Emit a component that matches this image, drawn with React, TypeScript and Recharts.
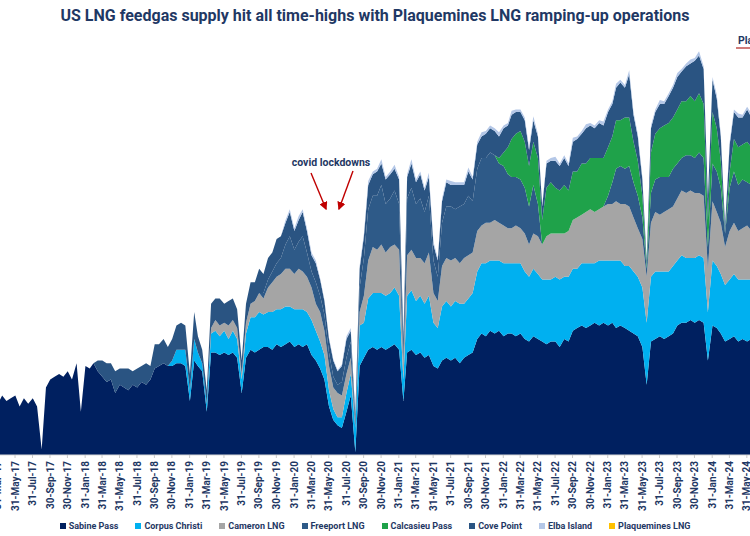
import React from "react";
import { AreaChart, Area, XAxis, YAxis } from "recharts";

// Semi-monthly observation dates (1st and 16th of each month), Mar-2017 .. Jul-2024
const FIRST_YEAR = 2017;
const FIRST_MONTH = 2; // March (0-based)
const LAST_YEAR = 2024;
const LAST_MONTH = 6; // July (0-based)
const HALF_MONTH_DAYS = [1, 16];

// bcf/d, two values per month
const sabine = [
  // 2017 Mar..Dec
  2.1, 2.2, 1.9, 2.2, 2.0, 2.1, 2.2, 1.8, 2.1, 1.9, 2.1, 1.8, 0.2, 2.5, 2.8, 2.9, 3.0, 2.9, 3.1, 2.8,
  // 2018
  3.4, 1.6, 3.3, 3.2, 3.4, 3.1, 2.9, 2.7, 2.8, 2.3, 2.6, 2.5, 2.4, 2.6, 2.5, 2.7, 2.6, 2.8, 3.2, 3.3, 3.4, 3.3, 3.3, 3.4,
  // 2019
  3.4, 3.3, 2.0, 3.5, 3.3, 3.1, 1.6, 3.8, 3.8, 3.7, 3.8, 3.7, 3.8, 3.6, 2.3, 3.6, 3.9, 3.8, 3.9, 4.0, 4.0, 3.9, 4.1, 4.0,
  // 2020
  4.1, 4.2, 4.0, 4.1, 4.0, 4.1, 3.7, 3.5, 3.2, 2.8, 1.8, 1.3, 1.1, 1.0, 1.6, 2.2, 0.1, 3.3, 3.6, 3.9, 4.0, 3.9, 4.0, 3.9,
  // 2021
  4.0, 4.1, 3.9, 2.0, 3.8, 3.9, 3.7, 3.8, 3.6, 3.7, 3.3, 3.2, 3.5, 3.6, 3.5, 3.6, 3.4, 3.6, 3.7, 3.8, 4.3, 4.5, 4.4, 4.6,
  // 2022
  4.5, 4.6, 4.4, 4.5, 4.5, 4.4, 4.5, 4.3, 4.2, 4.4, 4.3, 4.2, 4.1, 4.2, 4.2, 4.0, 4.3, 4.2, 4.6, 4.7, 4.8, 4.7, 4.8, 4.9,
  // 2023
  4.8, 4.9, 4.8, 4.9, 4.7, 4.8, 4.7, 4.6, 4.5, 4.4, 4.0, 2.6, 4.2, 4.3, 4.4, 4.3, 4.4, 4.5, 4.8, 4.9, 4.9, 5.0, 4.9, 5.0,
  // 2024 Jan..Jul
  4.9, 3.5, 4.8, 4.7, 4.5, 4.2, 4.3, 4.4, 4.2, 4.3, 4.2, 4.3, 4.2, 4.3,
];

const corpusChristi = [
  0, 0, 0, 0, 0, 0, 0, 0, 0, 0, 0, 0, 0, 0, 0, 0, 0, 0, 0, 0,
  0, 0, 0, 0, 0, 0, 0, 0, 0, 0, 0, 0, 0, 0, 0, 0, 0, 0, 0, 0, 0, 0, 0.2, 0.5,
  0.5, 0.6, 0.4, 0.8, 0.5, 0.3, 0.3, 0.7, 0.8, 0.7, 0.8, 0.6, 0.8, 0.7, 0.5, 0.9, 1.2, 1.3, 1.4, 1.2, 1.3, 1.4, 1.3, 1.4,
  1.4, 1.3, 1.4, 1.3, 1.4, 1.2, 1.3, 1.1, 1.0, 0.9, 0.6, 0.4, 0.3, 0.4, 0.7, 0.8, 0.9, 1.5, 1.3, 1.9, 2.0, 2.1, 2.0, 2.0,
  2.0, 2.1, 2.0, 0.8, 2.1, 2.2, 2.0, 2.1, 2.0, 2.2, 1.6, 1.5, 2.0, 2.1, 2.0, 2.1, 2.2, 2.0, 2.1, 2.2, 2.5, 2.6, 2.7, 2.6,
  2.7, 2.6, 2.7, 2.6, 2.6, 2.7, 2.6, 2.5, 2.4, 2.5, 2.4, 2.3, 2.4, 2.3, 2.4, 2.5, 2.3, 2.4, 2.3, 2.2, 2.3, 2.4, 2.3, 2.2,
  2.4, 2.3, 2.4, 2.3, 2.5, 2.4, 2.3, 2.4, 2.3, 2.2, 2.2, 2.3, 2.4, 2.5, 2.4, 2.5, 2.4, 2.5, 2.4, 2.5, 2.4, 2.3, 2.4, 2.4,
  2.4, 1.8, 2.4, 2.3, 2.2, 2.1, 2.2, 2.3, 2.3, 2.2, 2.3, 2.2, 2.3, 2.2,
];

const cameron = [
  0, 0, 0, 0, 0, 0, 0, 0, 0, 0, 0, 0, 0, 0, 0, 0, 0, 0, 0, 0,
  0, 0, 0, 0, 0, 0, 0, 0, 0, 0, 0, 0, 0, 0, 0, 0, 0, 0, 0, 0, 0, 0, 0, 0,
  0, 0, 0, 0, 0, 0, 0, 0.2, 0.4, 0.4, 0.3, 0.5, 0.4, 0.4, 0.2, 0.4, 0.5, 0.6, 0.7, 0.6, 0.9, 1.1, 1.2, 1.3,
  1.4, 1.4, 1.3, 1.5, 1.4, 1.3, 1.2, 1.0, 1.1, 0.9, 0.9, 0.8, 0.9, 0.8, 0.7, 0.6, 0.0, 0.5, 1.0, 1.4, 1.7, 1.6, 1.8, 1.6,
  1.7, 1.6, 1.7, 0.6, 1.5, 1.5, 1.6, 1.4, 1.5, 1.6, 1.1, 1.0, 1.5, 1.6, 1.7, 1.6, 1.5, 1.7, 1.6, 1.5, 1.5, 1.4, 1.5, 1.4,
  1.5, 1.4, 1.4, 1.3, 1.3, 1.4, 1.3, 1.4, 1.2, 1.3, 1.4, 1.3, 1.6, 1.7, 1.6, 1.7, 1.6, 1.7, 1.8, 1.9, 1.8, 1.9, 2.0, 1.9,
  1.9, 2.0, 2.1, 2.1, 2.2, 2.1, 2.3, 2.2, 2.0, 1.8, 1.8, 1.7, 2.0, 2.2, 2.1, 2.2, 2.3, 2.2, 2.3, 2.4, 2.4, 2.5, 2.4, 2.3,
  2.3, 1.6, 2.2, 2.0, 1.9, 1.4, 1.8, 1.9, 1.8, 1.9, 2.0, 1.8, 1.9, 1.8,
];

const freeport = [
  0, 0, 0, 0, 0, 0, 0, 0, 0, 0, 0, 0, 0, 0, 0, 0, 0, 0, 0, 0,
  0, 0, 0, 0, 0, 0, 0, 0, 0, 0, 0, 0, 0, 0, 0, 0, 0, 0, 0, 0, 0, 0, 0, 0,
  0, 0, 0, 0, 0, 0, 0, 0, 0, 0, 0, 0, 0, 0, 0, 0, 0, 0, 0, 0.2, 0.3, 0.4, 0.5, 0.6,
  0.9, 1.2, 0.9, 1.0, 1.3, 0.9, 0.6, 0.8, 0.6, 0.6, 0.5, 0.4, 0.3, 0.5, 0.6, 0.6, 0.3, 0.9, 1.4, 1.9, 1.9, 2.0, 2.2, 1.8,
  1.8, 2.0, 1.7, 0.2, 2.1, 2.3, 2.0, 2.2, 1.9, 2.1, 1.2, 0.9, 1.6, 1.9, 2.0, 1.8, 2.1, 2.0, 2.2, 1.9, 2.3, 2.5, 2.4, 2.6,
  2.4, 2.2, 2.2, 2.0, 1.9, 1.8, 1.8, 1.7, 1.4, 1.8, 1.2, 0, 0, 0, 0, 0, 0, 0, 0, 0, 0, 0, 0, 0,
  0, 0, 0.3, 0.8, 1.2, 1.4, 1.3, 1.5, 1.3, 1.2, 0.8, 0.3, 1.1, 1.2, 1.4, 1.3, 1.2, 1.4, 1.3, 1.2, 1.4, 1.3, 1.3, 1.5,
  1.4, 0.8, 1.4, 1.5, 1.3, 0.5, 1.6, 1.9, 1.7, 1.8, 1.6, 1.7, 1.6, 1.7,
];

const calcasieuPass = [
  0, 0, 0, 0, 0, 0, 0, 0, 0, 0, 0, 0, 0, 0, 0, 0, 0, 0, 0, 0,
  0, 0, 0, 0, 0, 0, 0, 0, 0, 0, 0, 0, 0, 0, 0, 0, 0, 0, 0, 0, 0, 0, 0, 0,
  0, 0, 0, 0, 0, 0, 0, 0, 0, 0, 0, 0, 0, 0, 0, 0, 0, 0, 0, 0, 0, 0, 0, 0,
  0, 0, 0, 0, 0, 0, 0, 0, 0, 0, 0, 0, 0, 0, 0, 0, 0, 0, 0, 0, 0, 0, 0, 0,
  0, 0, 0, 0, 0, 0, 0, 0, 0, 0, 0, 0, 0, 0, 0, 0, 0, 0, 0, 0, 0, 0, 0, 0,
  0, 0.2, 0.5, 1.0, 1.4, 1.6, 1.8, 1.7, 1.5, 1.6, 1.7, 0.9, 1.8, 1.9, 1.7, 1.6, 1.8, 1.5, 1.8, 1.7, 1.9, 1.8, 1.9, 2.0,
  1.9, 1.8, 1.8, 1.7, 1.8, 1.7, 1.9, 1.8, 1.5, 1.3, 0.8, 0.1, 1.5, 1.7, 1.8, 1.9, 2.0, 1.9, 2.0, 2.1, 2.0, 2.2, 2.1, 2.2,
  2.0, 1.0, 1.9, 1.6, 1.0, 0.0, 0.6, 1.2, 1.4, 1.3, 1.5, 1.4, 1.5, 1.4,
];

const covePoint = [
  0, 0, 0, 0, 0, 0, 0, 0, 0, 0, 0, 0, 0, 0, 0, 0, 0, 0, 0, 0,
  0, 0, 0, 0, 0, 0.4, 0.6, 0.7, 0.6, 0.8, 0.6, 0.7, 0.8, 0.5, 0.7, 0.6, 0.8, 0.5, 0.9, 0.8, 0.9, 0.7, 0.8, 0.9,
  1.0, 0.9, 0.6, 1.0, 0.6, 0.5, 0.5, 0.9, 0.8, 1.0, 0.7, 0.9, 0.8, 0.7, 0.5, 0.7, 0.8, 0.7, 0.9, 0.7, 0.8, 0.7, 0.9, 0.8,
  0.8, 0.9, 0.7, 0.8, 0.9, 0.8, 0.6, 0.7, 0.6, 0.5, 0.5, 0.6, 0.5, 0.6, 0.7, 0.4, 0.2, 0.7, 0.8, 0.9, 0.8, 0.9, 0.8, 0.9,
  0.9, 0.8, 0.9, 0.7, 0.8, 0.9, 0.8, 0.9, 0.8, 0.7, 0.6, 0.6, 0.8, 0.9, 0.8, 0.9, 0.8, 0.7, 0.9, 0.8, 0.9, 0.8, 0.9, 0.9,
  0.9, 0.8, 0.9, 0.8, 0.9, 0.8, 0.7, 0.8, 0.6, 0.8, 0.8, 0.5, 0.9, 0.8, 1.0, 0.9, 1.0, 0.9, 1.1, 1.2, 1.1, 1.3, 1.2, 1.1,
  1.3, 1.2, 1.3, 1.2, 1.2, 1.4, 1.1, 1.6, 1.0, 0.9, 0.6, 0.2, 0.9, 0.8, 0.9, 0.8, 1.0, 1.1, 1.2, 1.1, 1.3, 1.2, 1.5, 1.4,
  1.3, 0.8, 1.2, 1.1, 0.9, 0.3, 1.0, 1.0, 1.1, 1.0, 1.2, 1.1, 1.0, 1.1,
];

const elbaIsland = [
  0, 0, 0, 0, 0, 0, 0, 0, 0, 0, 0, 0, 0, 0, 0, 0, 0, 0, 0, 0,
  0, 0, 0, 0, 0, 0, 0, 0, 0, 0, 0, 0, 0, 0, 0, 0, 0, 0, 0, 0, 0, 0, 0, 0,
  0, 0, 0, 0, 0, 0, 0, 0, 0, 0, 0, 0, 0, 0, 0, 0, 0, 0, 0, 0, 0, 0, 0, 0,
  0.1, 0.1, 0.1, 0.15, 0.1, 0.1, 0.1, 0.1, 0.05, 0.05, 0.05, 0.05, 0.05, 0.05, 0.1, 0.1, 0, 0.1, 0.1, 0.15, 0.1, 0.1, 0.15, 0.1,
  0.1, 0.15, 0.1, 0, 0.1, 0.15, 0.1, 0.1, 0.1, 0.15, 0.1, 0.1, 0.1, 0.1, 0.15, 0.1, 0.1, 0.1, 0.15, 0.1, 0.1, 0.15, 0.1, 0.1,
  0.1, 0.15, 0.1, 0.1, 0.15, 0.1, 0.1, 0.1, 0.1, 0.15, 0.1, 0.05, 0.1, 0.1, 0.15, 0.1, 0.1, 0.1, 0.15, 0.1, 0.1, 0.15, 0.1, 0.1,
  0.1, 0.15, 0.1, 0.1, 0.15, 0.1, 0.1, 0.15, 0.1, 0.1, 0.1, 0.05, 0.1, 0.1, 0.15, 0.1, 0.1, 0.1, 0.15, 0.1, 0.1, 0.15, 0.1, 0.15,
  0.1, 0.05, 0.1, 0.15, 0.1, 0.05, 0.1, 0.1, 0.15, 0.1, 0.1, 0.15, 0.1, 0.1,
];

const MONTHS = ["Jan", "Feb", "Mar", "Apr", "May", "Jun", "Jul", "Aug", "Sep", "Oct", "Nov", "Dec"];
const TICK_MONTHS = [0, 2, 4, 6, 8, 10]; // ticks at month-end of Jan, Mar, May, Jul, Sep, Nov

const SERIES = [
  { key: "sabine", name: "Sabine Pass", color: "#002060", values: sabine },
  { key: "corpus", name: "Corpus Christi", color: "#00b0f0", values: corpusChristi },
  { key: "cameron", name: "Cameron LNG", color: "#a5a5a5", values: cameron },
  { key: "freeport", name: "Freeport LNG", color: "#2e5a88", values: freeport },
  { key: "calcasieu", name: "Calcasieu Pass", color: "#1fa24a", values: calcasieuPass },
  { key: "cove", name: "Cove Point", color: "#2a5482", values: covePoint },
  { key: "elba", name: "Elba Island", color: "#b4c7e7", values: elbaIsland },
];
const LEGEND_ONLY = [{ name: "Plaquemines LNG", color: "#ffc000" }];

// Build dates
const dates: number[] = [];
{
  let y = FIRST_YEAR;
  let m = FIRST_MONTH;
  while (y < LAST_YEAR || (y === LAST_YEAR && m <= LAST_MONTH)) {
    for (const d of HALF_MONTH_DAYS) dates.push(Date.UTC(y, m, d));
    m++;
    if (m === 12) {
      m = 0;
      y++;
    }
  }
}

const data = dates.map((t, i) => {
  const row: Record<string, number> = { t };
  SERIES.forEach((s) => {
    row[s.key] = s.values[i] ?? 0;
  });
  return row;
});

const ticks: number[] = [];
for (let y = FIRST_YEAR; y <= LAST_YEAR; y++) {
  for (const m of TICK_MONTHS) {
    const t = Date.UTC(y, m + 1, 0); // last day of month m
    if (t >= dates[0] && t <= dates[dates.length - 1]) ticks.push(t);
  }
}

const fmtDate = (t: number) => {
  const d = new Date(t);
  return `${d.getUTCDate()}-${MONTHS[d.getUTCMonth()]}-${String(d.getUTCFullYear()).slice(2)}`;
};

const NAVY_TEXT = "#1f3864";
const FONT = "Roboto, 'Open Sans', sans-serif";

const RotTick = (props: any) => {
  const { x, y, payload } = props;
  const ay = y + 1;
  return (
    <text
      x={x}
      y={ay}
      dy={3.6}
      transform={`rotate(-90 ${x} ${ay})`}
      textAnchor="end"
      fill={NAVY_TEXT}
      fontSize={10}
      fontWeight={700}
      fontFamily={FONT}
    >
      {fmtDate(payload.value)}
    </text>
  );
};

export default function App() {
  const legendItems = [...SERIES.map((s) => ({ name: s.name, color: s.color })), ...LEGEND_ONLY];
  return (
    <div
      style={{
        position: "fixed",
        left: 0,
        top: 0,
        width: 750,
        height: 536,
        overflow: "hidden",
        background: "#ffffff",
        fontFamily: FONT,
      }}
    >
      <div style={{ position: "absolute", left: -11, top: 0 }}>
        <AreaChart
          width={771}
          height={536}
          data={data}
          margin={{ top: 23, right: 0, bottom: 31, left: 0 }}
        >
          <XAxis
            dataKey="t"
            type="number"
            scale="linear"
            domain={[dates[0], dates[dates.length - 1]]}
            ticks={ticks}
            interval={0}
            tick={<RotTick />}
            height={50}
            tickSize={3}
            axisLine={{ stroke: "#d9d9d9" }}
            tickLine={{ stroke: "#c8c8c8" }}
          />
          <YAxis hide domain={[0, 16]} allowDataOverflow />
          {SERIES.map((s) => (
            <Area
              key={s.key}
              dataKey={s.key}
              name={s.name}
              stackId="lng"
              type="linear"
              stroke="none"
              fill={s.color}
              fillOpacity={1}
              isAnimationActive={false}
              dot={false}
              activeDot={false}
            />
          ))}
        </AreaChart>
      </div>

      {/* Title */}
      <div
        style={{
          position: "absolute",
          left: 0,
          top: 6,
          width: 750,
          textAlign: "center",
          fontSize: 16,
          lineHeight: "20px",
          fontWeight: 700,
          color: NAVY_TEXT,
          whiteSpace: "nowrap",
        }}
      >
        US LNG feedgas supply hit all time-highs with Plaquemines LNG ramping-up operations
      </div>

      {/* Annotations */}
      <svg width={750} height={536} style={{ position: "absolute", left: 0, top: 0, pointerEvents: "none" }}>
        <defs>
          <marker id="arr" markerWidth="6" markerHeight="6" refX="5" refY="3" orient="auto">
            <path d="M0,0 L6,3 L0,6 Z" fill="#c00000" />
          </marker>
        </defs>
        <text x={331} y={166} textAnchor="middle" fontSize={10.5} fontWeight={700} fill={NAVY_TEXT} fontFamily={FONT}>
          covid lockdowns
        </text>
        <line x1={311} y1={173} x2={326} y2={209} stroke="#c00000" strokeWidth={1.4} markerEnd="url(#arr)" />
        <line x1={353} y1={171} x2={339} y2={209} stroke="#c00000" strokeWidth={1.4} markerEnd="url(#arr)" />
        <text x={738} y={44} fontSize={10.5} fontWeight={700} fill={NAVY_TEXT} fontFamily={FONT}>
          Plaquemines LNG
        </text>
        <line x1={736} y1={48} x2={750} y2={48} stroke="#c0504d" strokeWidth={1.5} />
      </svg>

      {/* Legend */}
      <div
        style={{
          position: "absolute",
          left: 0,
          top: 519,
          width: 750,
          display: "flex",
          justifyContent: "center",
          gap: 17,
          fontSize: 9,
          lineHeight: "14px",
          fontWeight: 700,
          color: NAVY_TEXT,
          whiteSpace: "nowrap",
        }}
      >
        {legendItems.map((it) => (
          <div key={it.name} style={{ display: "flex", alignItems: "center", gap: 3 }}>
            <span style={{ display: "inline-block", width: 6, height: 6, background: it.color }} />
            <span>{it.name}</span>
          </div>
        ))}
      </div>
    </div>
  );
}
